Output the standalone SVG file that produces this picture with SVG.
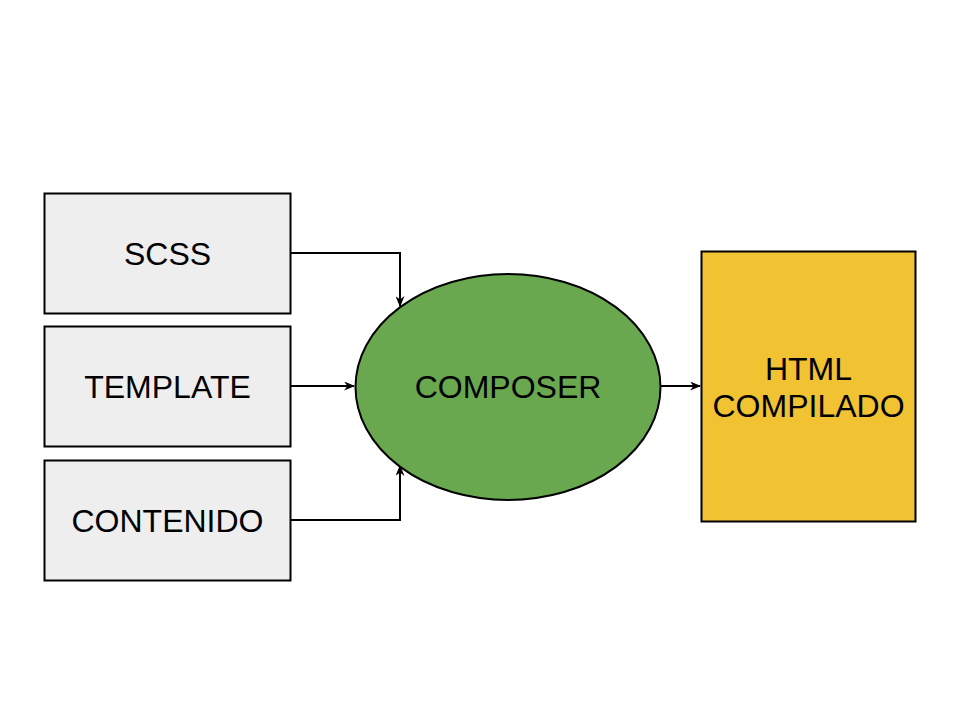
<svg xmlns="http://www.w3.org/2000/svg" width="960" height="720" viewBox="0 0 960 720">
<style>
.box{fill:#eeeeee;stroke:#000;stroke-width:2}
.lbl{font-family:"Liberation Sans",Arial,sans-serif;font-size:32px;fill:#000;text-anchor:middle}
.con{fill:none;stroke:#000;stroke-width:2}
</style>
<defs>
<marker id="arr" viewBox="0 0 10 10" refX="9" refY="5" markerWidth="11" markerHeight="9" orient="auto" markerUnits="userSpaceOnUse" preserveAspectRatio="none">
<path d="M0,0 L10,5 L0,10 L3,5 Z" fill="#000"/>
</marker>
</defs>
<rect width="960" height="720" fill="#fff"/>
<g id="connectors">
<path class="con" d="M291,253 H400 V306" marker-end="url(#arr)"/>
<path class="con" d="M291,386 H354" marker-end="url(#arr)"/>
<path class="con" d="M291,520 H400 V466" marker-end="url(#arr)"/>
<path class="con" d="M661,386 H700" marker-end="url(#arr)"/>
</g>
<g id="scss">
<rect class="box" x="44.5" y="193.5" width="246" height="120"/>
<text class="lbl" x="167.5" y="265">SCSS</text>
</g>
<g id="template">
<rect class="box" x="44.5" y="326.5" width="246" height="120"/>
<text class="lbl" x="167.5" y="398">TEMPLATE</text>
</g>
<g id="contenido">
<rect class="box" x="44.5" y="460.5" width="246" height="120"/>
<text class="lbl" x="167.5" y="532">CONTENIDO</text>
</g>
<g id="composer">
<ellipse cx="508" cy="387" rx="152.5" ry="113" fill="#6aa84f" stroke="#000" stroke-width="2"/>
<text class="lbl" x="508" y="398">COMPOSER</text>
</g>
<g id="html">
<rect x="701.5" y="251.5" width="214" height="270" fill="#f1c232" stroke="#000" stroke-width="2"/>
<text class="lbl" x="808.5" y="380">HTML</text>
<text class="lbl" x="808.5" y="417">COMPILADO</text>
</g>
</svg>
